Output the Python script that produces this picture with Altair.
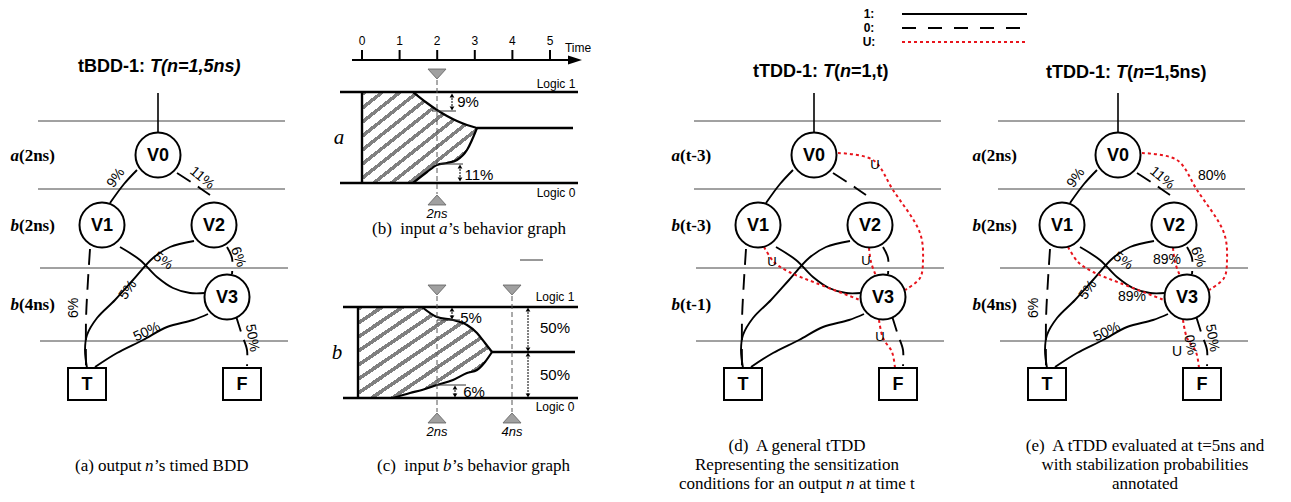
import altair as alt
import pandas as pd

SANS = "Liberation Sans"
SERIF = "Liberation Serif"

# ---------------- data ----------------
panel_names = ["a", "d", "e"]
panel_dx = [0, 656, 960]

node_names = ["V0", "V1", "V2", "V3"]
node_x = [158, 102, 214, 227]
node_y = [155, 225, 225, 297]
leaf_names = ["T", "F"]
leaf_x = [87, 242]
leaf_y = [384, 384]

level_y = [121, 189, 268, 341]
level_x0 = [38, 38, 40, 40]
level_x1 = [285, 285, 288, 288]

row_letter = ["a", "b", "b"]
row_time_ae = ["(2ns)", "(2ns)", "(4ns)"]
row_time_d = ["(t-3)", "(t-3)", "(t-1)"]
row_y = [156, 226, 305]
row_break = [19, 680, 981]

# black edges: 1 = solid, 0 = dashed
edge_names = ["V0-V1", "V0-V2", "V1-T", "V1-V3", "V2-T", "V2-V3", "V3-T", "V3-F"]
edge_value = ["1", "0", "0", "1", "1", "0", "1", "0"]
edge_x = [
    [137, 124, 110],
    [177, 194, 210],
    [90, 88, 86, 86],
    [120, 140, 157, 173, 190, 205],
    [194, 170, 153, 133, 115, 97, 87, 85, 87],
    [227, 232, 232],
    [208, 193, 167, 143, 117, 95],
    [236, 242, 247, 247],
]
edge_y = [
    [170, 184, 203],
    [173, 184, 195],
    [249, 280, 320, 368],
    [247, 260, 277, 288, 293, 293],
    [241, 247, 258, 280, 300, 318, 335, 350, 368],
    [247, 258, 274],
    [314, 320, 327, 340, 353, 367],
    [316, 335, 350, 366],
]
# red "U" edges (panels d and e)
u_names = ["V0-V3", "V1-V3", "V2-V3", "V3-F"]
u_x = [[182, 217, 237, 264, 267, 264, 249], [108, 118, 133, 160, 204], [213, 215, 220], [223, 227, 236, 239]]
u_y = [[153, 160, 190, 233, 260, 278, 290], [247, 262, 272, 283, 300], [248, 262, 276], [320, 338, 352, 368]]

pct_text = ["9%", "11%", "6%", "5%", "5%", "6%", "50%", "50%"]
pct_x = [116, 202, 74, 163, 128, 238, 147, 252]
pct_y = [178, 178, 308, 261, 290, 257, 332, 338]
pct_angle = [-55, 40, -90, 35, -55, 70, -25, 80]

prob_text = ["80%", "89%", "89%", "0%", "U"]
prob_x = [252, 207, 172, 230, 217]
prob_y = [176, 260, 297, 345, 352]
prob_angle = [0, 0, 0, 80, 0]

u_label_x = [219, 116, 210, 224]
u_label_y = [165, 262, 261, 337]

# behavior graphs
time_ticks = [0, 1, 2, 3, 4, 5]
time_x0, time_step = 362, 37.6
a_x = [362, 413, 427, 437, 447, 457, 467, 477]
a_top = [92, 92, 103, 110, 116, 121, 125, 128]
a_bot = [183, 183, 172, 165, 163, 160, 150, 128]
b_x = [358, 393, 410, 422, 437, 453, 467, 477, 485, 492]
b_top = [307, 307, 307, 307, 317, 320, 325, 333, 343, 352]
b_bot = [398, 398, 393, 390, 385, 380, 373, 370, 362, 352]

legend_labels = ["1:", "0:", "U:"]
legend_y = [14, 28, 42]

# ---------------- helpers ----------------
XS = alt.Scale(domain=[8, 1283], nice=False, zero=False)
YS = alt.Scale(domain=[8, 494], nice=False, zero=False, reverse=True)


def X(f="x"):
    return alt.X(f + ":Q", scale=XS, axis=None)


def Y(f="y"):
    return alt.Y(f + ":Q", scale=YS, axis=None, stack=None)


def rules(rows, **kw):
    df = pd.DataFrame(rows, columns=["x", "y", "x2", "y2"])
    return alt.Chart(df).mark_rule(**kw).encode(x=X(), y=Y(), x2="x2:Q", y2="y2:Q")


def curves(rows, interp="catmull-rom", **kw):
    df = pd.DataFrame(rows, columns=["id", "o", "x", "y"])
    return alt.Chart(df).mark_line(interpolate=interp, **kw).encode(
        x=X(), y=Y(), detail="id:N", order="o:Q")


def symbols(rows, **kw):
    df = pd.DataFrame(rows, columns=["x", "y"])
    return alt.Chart(df).mark_point(opacity=1, **kw).encode(x=X(), y=Y())


def texts(rows, font=SANS, size=13, weight="normal", style="normal", align="center", color="black"):
    df = pd.DataFrame(rows, columns=["t", "x", "y", "a"])
    df["a"] = df["a"] % 360
    return alt.Chart(df).mark_text(baseline="middle", font=font, fontSize=size, fontWeight=weight,
                                   fontStyle=style, align=align, color=color).encode(
        x=X(), y=Y(), text="t:N", angle=alt.Angle("a:Q", scale=None))


layers = []

# ---------------- decision diagrams ----------------
lvl, roots, solid, dashed, red = [], [], [], [], []
circ, boxes = [], []
node_txt, pct_rows, u_rows, prob_rows = [], [], [], []
row_let, row_tim = [], []
for p, dx, br in zip(panel_names, panel_dx, row_break):
    for y, x0, x1 in zip(level_y, level_x0, level_x1):
        lvl.append((x0 + dx, y, x1 + dx, y))
    roots.append((node_x[0] + dx, 93, node_x[0] + dx, 133))
    for n, v, xs, ys in zip(edge_names, edge_value, edge_x, edge_y):
        for i, (x, y) in enumerate(zip(xs, ys)):
            (solid if v == "1" else dashed).append((p + n, i, x + dx, y))
    if p != "a":
        for n, xs, ys in zip(u_names, u_x, u_y):
            for i, (x, y) in enumerate(zip(xs, ys)):
                red.append((p + n, i, x + dx, y))
    for n, x, y in zip(node_names, node_x, node_y):
        circ.append((x + dx, y))
        node_txt.append((n, x + dx, y + 1, 0))
    for n, x, y in zip(leaf_names, leaf_x, leaf_y):
        boxes.append((x + dx, y))
        node_txt.append((n, x + dx, y + 1, 0))
    if p != "d":
        for t, x, y, a in zip(pct_text, pct_x, pct_y, pct_angle):
            pct_rows.append((t, x + dx, y, a))
    if p == "e":
        for t, x, y, a in zip(prob_text, prob_x, prob_y, prob_angle):
            prob_rows.append((t, x + dx, y, a))
    if p == "d":
        for x, y in zip(u_label_x, u_label_y):
            u_rows.append(("U", x + dx, y, 0))
    times = row_time_d if p == "d" else row_time_ae
    for l, t, y in zip(row_letter, times, row_y):
        row_let.append((l, br, y, 0))
        row_tim.append((t, br, y, 0))

layers.append(rules(lvl, color="#444444", strokeWidth=1))
layers.append(rules(roots, color="black", strokeWidth=1.6))
layers.append(curves(solid, color="black", strokeWidth=1.9))
layers.append(curves(dashed, color="black", strokeWidth=1.9, strokeDash=[16, 9]))
layers.append(curves(red, color="#e8141c", strokeWidth=2, strokeDash=[3, 3]))
layers.append(symbols(circ, shape="circle", size=2025, filled=True, fill="white", stroke="black",
                      strokeWidth=2))
layers.append(symbols(boxes, shape="M-1,-0.842L1,-0.842L1,0.842L-1,0.842Z", size=1444, filled=True,
                      fill="white", stroke="black", strokeWidth=2))
layers.append(texts(node_txt, size=18, weight="bold"))
layers.append(texts(pct_rows, size=14))
layers.append(texts(prob_rows, size=14))
layers.append(texts(u_rows, size=13))
layers.append(texts(row_let, font=SERIF, size=17, weight="bold", style="italic", align="right"))
layers.append(texts(row_tim, font=SERIF, size=17, weight="bold", align="left"))

# titles
title_bold = [("tBDD-1:", 78, 67, 0), ("tTDD-1:", 753, 72, 0), ("(", 834, 72, 0), ("=1,t)", 851, 72, 0),
              ("tTDD-1:", 1046, 73, 0), ("(", 1127, 73, 0), ("=1,5ns)", 1144, 73, 0)]
title_it = [("T(n=1,5ns)", 150, 67, 0), ("T", 823, 72, 0), ("n", 840, 72, 0),
            ("T", 1116, 73, 0), ("n", 1133, 73, 0)]
layers.append(texts(title_bold, size=18, weight="bold", align="left"))
layers.append(texts(title_it, size=18, weight="bold", style="italic", align="left"))

# legend
layers.append(rules([(902, legend_y[0], 1027, legend_y[0])], color="black", strokeWidth=2))
layers.append(rules([(902, legend_y[1], 1027, legend_y[1])], color="black", strokeWidth=2, strokeDash=[14, 12]))
layers.append(rules([(902, legend_y[2], 1027, legend_y[2])], color="#e8141c", strokeWidth=2, strokeDash=[3, 3]))
layers.append(texts([(l, 869, y, 0) for l, y in zip(legend_labels, legend_y)], size=12, weight="bold"))

# ---------------- behavior graphs ----------------
stops = []
N = 13
for k in range(N):
    s0, s1 = k / N, (k + 0.32) / N
    stops += [alt.GradientStop(offset=s0, color="#ffffff"), alt.GradientStop(offset=s0, color="#808080"),
              alt.GradientStop(offset=s1, color="#808080"), alt.GradientStop(offset=s1, color="#ffffff")]
stops.append(alt.GradientStop(offset=1, color="#ffffff"))
hatch = alt.LinearGradient(gradient="linear", stops=stops, x1=0, y1=0, x2=1, y2=1)

area_rows = [("a", x, t, b) for x, t, b in zip(a_x, a_top, a_bot)] + \
            [("b", x, t, b) for x, t, b in zip(b_x, b_top, b_bot)]
area_df = pd.DataFrame(area_rows, columns=["g", "x", "top", "bot"])
layers.append(alt.Chart(area_df).mark_area(interpolate="monotone", fill=hatch, orient="vertical").encode(
    x=X(), y=Y("top"), y2="bot:Q", detail="g:N"))

outline = []
for i, (x, t, b) in enumerate(zip(a_x, a_top, a_bot)):
    if x >= 413:
        outline.append(("at", i, x, t))
        outline.append(("ab", i, x, b))
for i, (x, t, b) in enumerate(zip(b_x, b_top, b_bot)):
    if x >= 422:
        outline.append(("bt", i, x, t))
    if x >= 393:
        outline.append(("bb", i, x, b))
layers.append(curves(outline, interp="monotone", color="black", strokeWidth=2.2))

thick = [(340, 92, 578, 92), (340, 183, 578, 183), (362, 92, 362, 183), (477, 128, 573, 128),
         (343, 307, 578, 307), (343, 398, 578, 398), (358, 307, 358, 398), (492, 352, 575, 352)]
layers.append(rules(thick, color="black", strokeWidth=2.4))

# time axis
tick_x = [time_x0 + time_step * t for t in time_ticks]
layers.append(rules([(352, 60, 572, 60)] + [(x, 50, x, 60) for x in tick_x], color="black", strokeWidth=2))
layers.append(symbols([(575, 60)], shape="M-1,-0.65L1,0L-1,0.65Z", size=196, filled=True, color="black"))
layers.append(texts([(str(t), x, 41, 0) for t, x in zip(time_ticks, tick_x)] + [("Time", 578, 48, 0)], size=12))

# 2ns / 4ns markers
marker_x = [437, 437, 512]
marker_top = [74, 290, 290]
marker_bot = [200, 418, 418]
marker_lbl = ["2ns", "2ns", "4ns"]
layers.append(rules([(x, t + 6, x, b - 6) for x, t, b in zip(marker_x, marker_top, marker_bot)],
                    color="#555555", strokeWidth=1, strokeDash=[5, 3]))
layers.append(symbols([(x, t) for x, t in zip(marker_x, marker_top)], shape="M-1,-0.55L1,-0.55L0,0.55Z",
                      size=324, filled=True, fill="#a0a0a0", stroke="#707070", strokeWidth=1))
layers.append(symbols([(x, b) for x, b in zip(marker_x, marker_bot)], shape="M-1,0.55L1,0.55L0,-0.55Z",
                      size=324, filled=True, fill="#a0a0a0", stroke="#707070", strokeWidth=1))
layers.append(texts([(l, x, b + 14, 0) for l, x, b in zip(marker_lbl, marker_x, marker_bot)], size=13,
                    style="italic"))

# dimension arrows
dims = [(452, 93, 111), (460, 164, 182), (452, 307, 320), (455, 385, 398), (528, 307, 352), (528, 352, 398)]
layers.append(rules([(x, a + 2, x, b - 2) for x, a, b in dims], color="black", strokeWidth=1, strokeDash=[2, 1]))
layers.append(symbols([(x, a + 2.5) for x, a, b in dims], shape="triangle-up", size=22, filled=True, color="black"))
layers.append(symbols([(x, b - 2.5) for x, a, b in dims], shape="triangle-down", size=22, filled=True,
                      color="black"))
layers.append(rules([(432, 111, 456, 111), (440, 164, 463, 164), (437, 320, 460, 320), (437, 385, 466, 385),
                     (520, 260, 543, 260)], color="#333333", strokeWidth=1))

layers.append(texts([("9%", 468, 102, 0), ("11%", 479, 175, 0), ("5%", 471, 318, 0), ("6%", 474, 392, 0),
                     ("50%", 555, 328, 0), ("50%", 555, 375, 0)], size=15))
layers.append(texts([("Logic 1", 556, 84, 0), ("Logic 0", 556, 193, 0), ("Logic 1", 555, 297, 0),
                     ("Logic 0", 555, 407, 0)], size=12))
layers.append(texts([("a", 339, 138, 0), ("b", 337, 353, 0)], font=SERIF, size=21, style="italic"))

# ---------------- captions ----------------
NB = "\u00a0"
cap_plain_left = [("(a) output", 75, 466, 0), ("’s timed BDD", 154, 466, 0),
                  ("(b)" + NB + " input", 372, 229, 0), ("’s behavior graph", 448, 229, 0),
                  ("(c)" + NB + " input", 377, 466, 0), ("’s behavior graph", 452, 466, 0),
                  ("conditions for an output", 679, 484, 0), ("at time t", 859, 484, 0)]
cap_it_left = [("n", 145, 466, 0), ("a", 439, 229, 0), ("b", 443, 466, 0), ("n", 846, 484, 0)]
cap_center = [("(d)" + NB + " A general tTDD", 797, 446, 0), ("Representing the sensitization", 797, 465, 0),
              ("(e)" + NB + " A tTDD evaluated at t=5ns and", 1145, 446, 0),
              ("with stabilization probabilities", 1145, 465, 0), ("annotated", 1145, 484, 0)]
layers.append(texts(cap_plain_left, font=SERIF, size=17, align="left"))
layers.append(texts(cap_it_left, font=SERIF, size=17, style="italic", align="left"))
layers.append(texts(cap_center, font=SERIF, size=17))

chart = alt.layer(*layers).properties(
    width=1275, height=486, padding=0, autosize="none", background="white"
).configure_view(stroke=None)

chart.save("out.html", embed_options={"renderer": "svg", "actions": False})
